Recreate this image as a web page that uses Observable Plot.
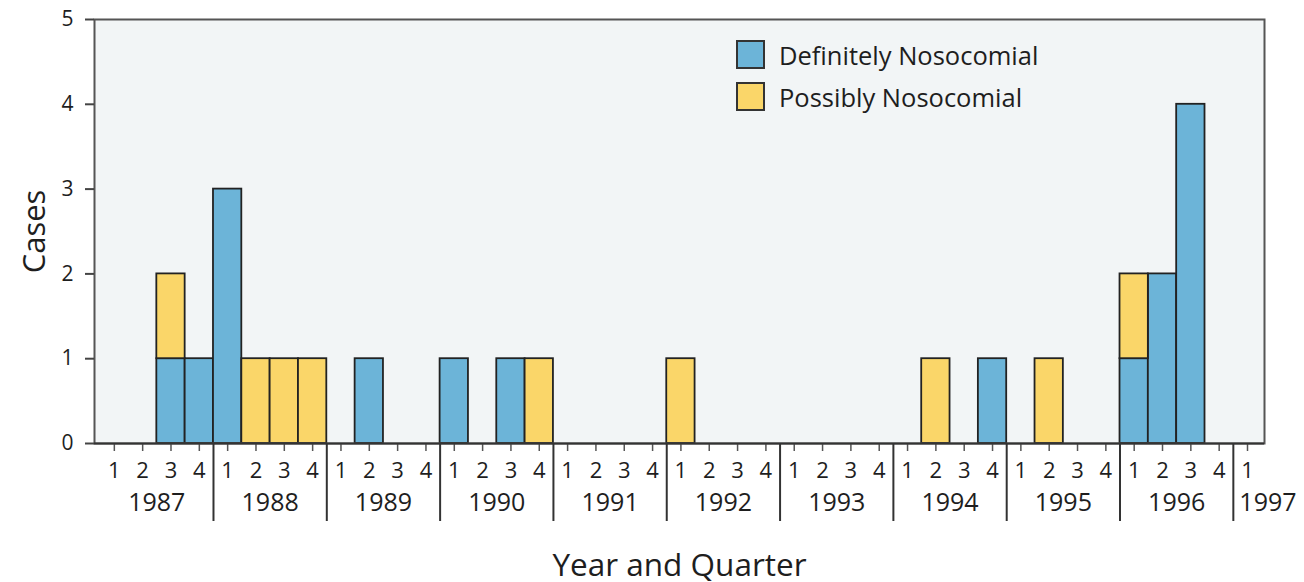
<!DOCTYPE html>
<html><head><meta charset="utf-8">
<script src="https://cdn.jsdelivr.net/npm/d3@7"></script>
<script src="https://cdn.jsdelivr.net/npm/@observablehq/plot@0.6"></script>
<style>
body{margin:0;background:#fff;font-family:"Open Sans",sans-serif;}
#wrap{position:relative;width:1304px;height:582px;}
#legend{position:absolute;left:736px;top:40px;font-size:25.5px;color:#1e1e1e;}
.item{display:flex;align-items:center;height:29px;margin-bottom:13px;}
.sw{width:25px;height:25px;border:2px solid #333;margin-right:14px;flex:none;}
</style></head><body><div id="wrap"></div>
<script>
const years = [1987,1988,1989,1990,1991,1992,1993,1994,1995,1996,1997];
const quarterLabels = ["1","2","3","4"];
const seriesNames = ["Definitely Nosocomial","Possibly Nosocomial"];
const seriesColors = ["#6cb4d8","#fad669"];
const definiteQuarters = ["1987Q3","1987Q4","1988Q1","1989Q2","1990Q1","1990Q3","1994Q4","1996Q1","1996Q2","1996Q3"];
const definiteCases = [1,1,3,1,1,1,1,1,2,4];
const possibleQuarters = ["1987Q3","1988Q2","1988Q3","1988Q4","1990Q4","1992Q1","1994Q2","1995Q2","1996Q1"];
const possibleCases = [1,1,1,1,1,1,1,1,1];
const yTicks = [0,1,2,3,4,5];

const qIndex = s => (+s.slice(0,4) - years[0]) * 4 + (+s.slice(5) - 1);
const rows = [
  ...definiteQuarters.map((s,i)=>({q:qIndex(s), n:definiteCases[i], series:seriesNames[0]})),
  ...possibleQuarters.map((s,i)=>({q:qIndex(s), n:possibleCases[i], series:seriesNames[1]}))
];
const nQuarters = (years.length - 1) * 4 + 1;
const qCenters = d3.range(nQuarters).map(i => i + 0.5);
const yearStarts = years.slice(1).map(y => (y - years[0]) * 4);
const yearRows = years.slice(0,-1).map(y => ({year:y, mid:(y - years[0]) * 4 + 2}));
const lastYear = [{year: years[years.length-1], start: (years.length-1)*4}];

const chart = Plot.plot({
  width:1304, height:582, marginLeft:94, marginRight:40, marginTop:19, marginBottom:139,
  style:{fontFamily:'"Open Sans", sans-serif', color:"#1e1e1e", background:"transparent", overflow:"visible"},
  x:{domain:[-0.2, 41.1], axis:null},
  y:{domain:[0,5], axis:null},
  color:{domain:seriesNames, range:seriesColors},
  marks:[
    Plot.frame({fill:"#f2f5f6"}),
    Plot.rectY(rows,{x1:"q", x2:d=>d.q+1, y:"n", fill:"series", stroke:"#222", strokeWidth:1.8}),
    Plot.frame({stroke:"#555", strokeWidth:2}),
    Plot.axisY({ticks:yTicks, tickFormat:"d", tickSize:9, tickPadding:12, fontSize:21, label:null, stroke:"#444", strokeWidth:2}),
    Plot.text(["Cases"],{frameAnchor:"left", rotate:-90, dx:-59, textAnchor:"middle", lineAnchor:"middle", fontSize:31, fill:"#1e1e1e"}),
    Plot.axisX({ticks:qCenters, tickSize:8, tickPadding:11, tickFormat:d=>quarterLabels[Math.floor(d)%4], fontSize:22, label:null, stroke:"#555", strokeWidth:1.5}),
    Plot.axisX({ticks:yearStarts, tickSize:78, tickFormat:()=>"", label:null, stroke:"#333", strokeWidth:2}),
    Plot.ruleY([0],{stroke:"#333", strokeWidth:2}),
    Plot.text(yearRows,{x:"mid", text:d=>String(d.year), frameAnchor:"bottom", lineAnchor:"middle", dy:59, fontSize:25, fill:"#1e1e1e"}),
    Plot.text(lastYear,{x:"start", text:d=>String(d.year), frameAnchor:"bottom", lineAnchor:"middle", dy:59, dx:6, textAnchor:"start", fontSize:25, fill:"#1e1e1e"}),
    Plot.text(["Year and Quarter"],{frameAnchor:"bottom", lineAnchor:"middle", dy:122, fontSize:31.5, fill:"#1e1e1e"})
  ]
});
const wrap = document.getElementById("wrap");
wrap.appendChild(chart);
const legend = document.createElement("div");
legend.id = "legend";
seriesNames.forEach((name,i)=>{
  const it = document.createElement("div"); it.className="item";
  const sw = document.createElement("div"); sw.className="sw"; sw.style.background = seriesColors[i];
  const tx = document.createElement("span"); tx.textContent = name;
  it.appendChild(sw); it.appendChild(tx); legend.appendChild(it);
});
wrap.appendChild(legend);
</script></body></html>
